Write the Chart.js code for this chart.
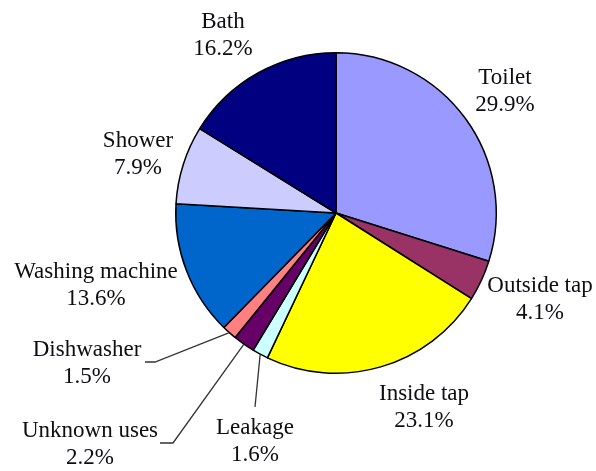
<!DOCTYPE html>
<html>
<head>
<meta charset="utf-8">
<script src="https://cdn.jsdelivr.net/npm/chart.js@4/dist/chart.umd.min.js"></script>
<style>
    html, body { margin: 0; padding: 0; background: #fff; }
    #wrap { width: 596px; height: 471px; position: relative; }
</style>
</head>
<body>
<div id="wrap"><canvas id="waterUseChart"></canvas></div>
<script>
// Household water use by category (percent)
const categories = ['Toilet', 'Outside tap', 'Inside tap', 'Leakage', 'Unknown uses',
    'Dishwasher', 'Washing machine', 'Shower', 'Bath'];
const shares = [29.9, 4.1, 23.1, 1.6, 2.2, 1.5, 13.6, 7.9, 16.2];
const shareLabels = ['29.9%', '4.1%', '23.1%', '1.6%', '2.2%', '1.5%', '13.6%', '7.9%', '16.2%'];
const sliceColors = ['#9999ff', '#993366', '#ffff00', '#ccffff', '#660066',
    '#ff8080', '#0066cc', '#ccccff', '#000080'];

// Label placement, offsets from the pie centre in pixels (text block centre),
// plus optional leader line elbow/end for the thin slices
const labelLayout = [
    { dx: 169, dy: -122 },
    { dx: 204, dy: 86 },
    { dx: 88, dy: 194 },
    { dx: -81, dy: 228, leader: [[-81, 194]] },
    { dx: -246, dy: 231, leader: [[-163, 230], [-176, 230]] },
    { dx: -249, dy: 150, leader: [[-181, 149], [-191, 149]] },
    { dx: -240, dy: 72 },
    { dx: -198, dy: -59 },
    { dx: -113, dy: -178 }
];

const pieLabels = {
    id: 'pieLabels',
    afterDatasetsDraw(chart) {
        const ctx = chart.ctx;
        const arcs = chart.getDatasetMeta(0).data;
        ctx.save();
        ctx.font = '23px "Liberation Serif", "Times New Roman", serif';
        ctx.fillStyle = '#0d0d14';
        ctx.strokeStyle = '#333';
        ctx.lineWidth = 1.3;
        ctx.textAlign = 'center';
        ctx.textBaseline = 'middle';
        arcs.forEach(function(arc, i) {
            const cx = arc.x, cy = arc.y;
            const lay = labelLayout[i];
            if (lay.leader) {
                const mid = (arc.startAngle + arc.endAngle) / 2;
                ctx.beginPath();
                ctx.moveTo(cx + Math.cos(mid) * arc.outerRadius, cy + Math.sin(mid) * arc.outerRadius);
                lay.leader.forEach(function(p) {
                    ctx.lineTo(cx + p[0], cy + p[1]);
                });
                ctx.stroke();
            }
            ctx.fillText(categories[i], cx + lay.dx, cy + lay.dy - 13);
            ctx.fillText(shareLabels[i], cx + lay.dx, cy + lay.dy + 14);
        });
        ctx.restore();
    }
};

const canvas = document.getElementById('waterUseChart');
new Chart(canvas.getContext('2d'), {
    type: 'pie',
    data: {
        labels: categories,
        datasets: [{
            data: shares,
            backgroundColor: sliceColors,
            borderColor: '#000',
            borderWidth: 1.5
        }]
    },
    options: {
        responsive: true,
        maintainAspectRatio: false,
        animation: false,
        layout: {
            padding: { left: 175, right: 99, top: 52, bottom: 97 }
        },
        plugins: {
            legend: { display: false },
            tooltip: { enabled: false }
        }
    },
    plugins: [pieLabels]
});
</script>
</body>
</html>
